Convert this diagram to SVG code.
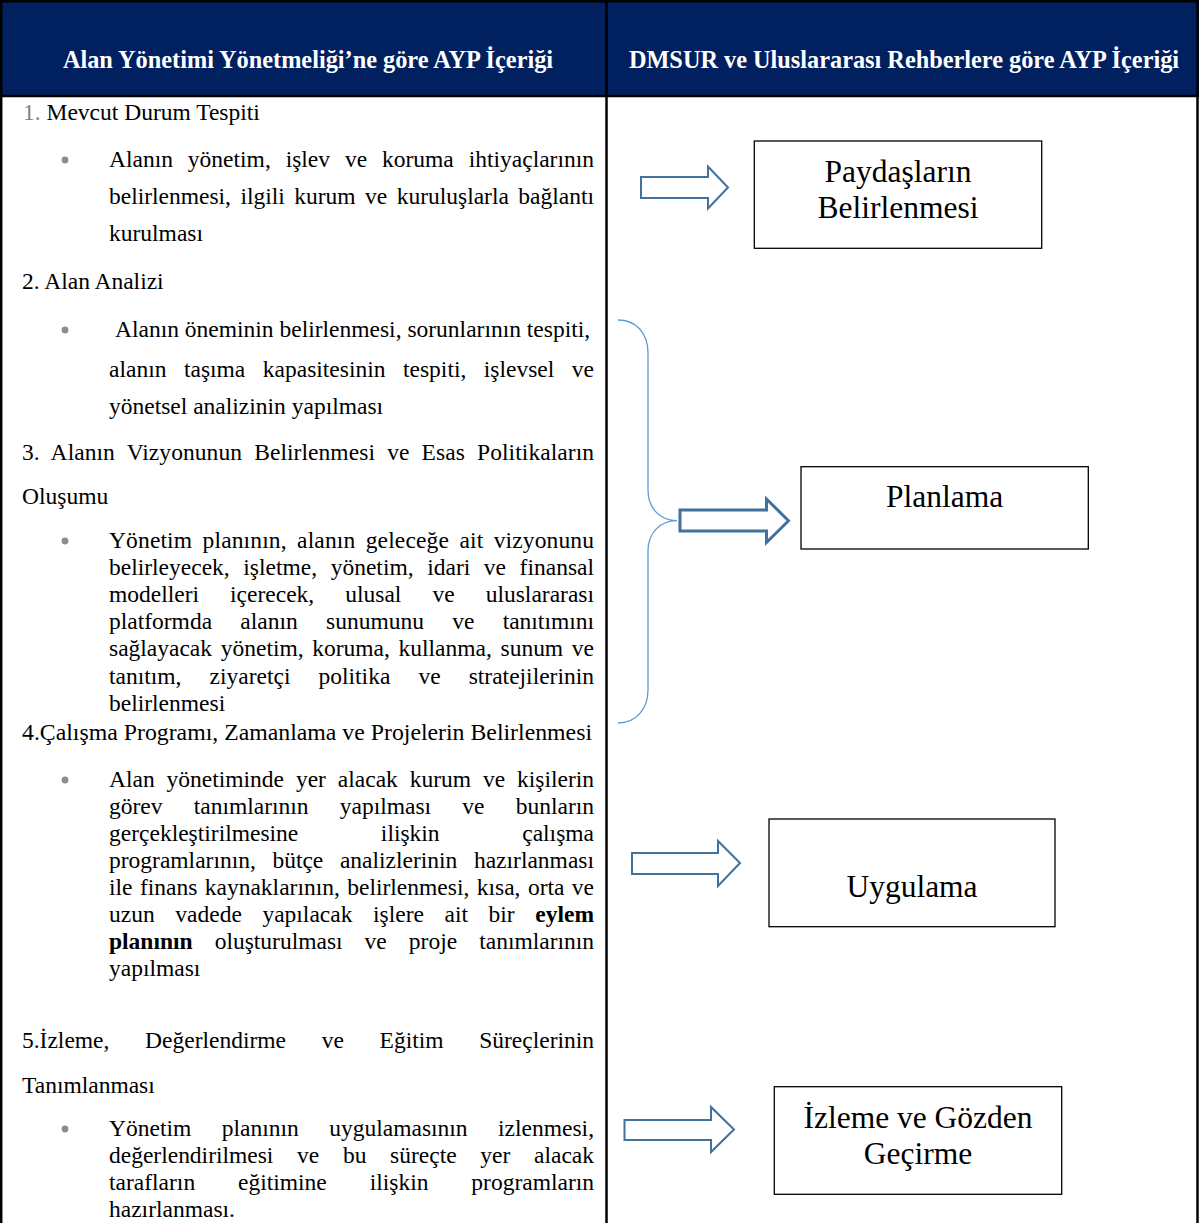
<svg xmlns="http://www.w3.org/2000/svg" width="1199" height="1223" viewBox="0 0 1199 1223">
<style>
.t{font-family:"Liberation Serif","Times New Roman",serif;font-size:23.5px;fill:#000}
.h{font-family:"Liberation Serif","Times New Roman",serif;font-size:24.3px;font-weight:bold;fill:#fff}
.bx{font-family:"Liberation Serif","Times New Roman",serif;font-size:31.5px;fill:#000}
.bd{font-weight:bold}
.grey{fill:#808080}
.box{fill:#fff;stroke:#000;stroke-width:1.3}
.arr{fill:#fff;stroke:#41719C;stroke-width:2}
.bul{fill:#8c8c8c}
.rule{stroke:#000;stroke-width:2.5;fill:none}
</style>
<rect x="0" y="0" width="1199" height="1223" fill="#fff"/>
<g id="table">
<rect x="0" y="0" width="1199" height="97" fill="#002060"/>
<line class="rule" x1="0" y1="1.2" x2="1199" y2="1.2"/>
<line class="rule" x1="0" y1="96" x2="1199" y2="96"/>
<line class="rule" x1="1.2" y1="0" x2="1.2" y2="1223"/>
<line class="rule" x1="606.5" y1="0" x2="606.5" y2="1223"/>
<line class="rule" x1="1197.5" y1="0" x2="1197.5" y2="1223"/>
<text class="h" x="308" y="68" text-anchor="middle">Alan Yönetimi Yönetmeliği’ne göre AYP İçeriği</text>
<text class="h" x="904" y="68" text-anchor="middle">DMSUR ve Uluslararası Rehberlere göre AYP İçeriği</text>
</g>
<g id="left-text">
<text class="t" x="23" y="119.5"><tspan class="grey">1.</tspan> Mevcut Durum Tespiti</text>
<circle class="bul" cx="65" cy="160" r="3.4"/>
<text class="t" x="109" y="167" textLength="485" lengthAdjust="spacing" word-spacing="9">Alanın yönetim, işlev ve koruma ihtiyaçlarının</text>
<text class="t" x="109" y="204" textLength="485" lengthAdjust="spacing" word-spacing="3.6">belirlenmesi, ilgili kurum ve kuruluşlarla bağlantı</text>
<text class="t" x="109" y="241">kurulması</text>
<text class="t" x="22" y="289">2. Alan Analizi</text>
<circle class="bul" cx="65" cy="330" r="3.4"/>
<text class="t" x="115" y="337">Alanın öneminin belirlenmesi, sorunlarının tespiti,</text>
<text class="t" x="109" y="377" textLength="485" lengthAdjust="spacing" word-spacing="11.6">alanın taşıma kapasitesinin tespiti, işlevsel ve</text>
<text class="t" x="109" y="414">yönetsel analizinin yapılması</text>
<text class="t" x="22" y="460" textLength="572" lengthAdjust="spacing" word-spacing="6.2">3. Alanın Vizyonunun Belirlenmesi ve Esas Politikaların</text>
<text class="t" x="22" y="504">Oluşumu</text>
<circle class="bul" cx="65" cy="541" r="3.4"/>
<text class="t" x="109" y="548" textLength="485" lengthAdjust="spacing" word-spacing="4.4">Yönetim planının, alanın geleceğe ait vizyonunu</text>
<text class="t" x="109" y="575" textLength="485" lengthAdjust="spacing" word-spacing="7.7">belirleyecek, işletme, yönetim, idari ve finansal</text>
<text class="t" x="109" y="602" textLength="485" lengthAdjust="spacing" word-spacing="25.2">modelleri içerecek, ulusal ve uluslararası</text>
<text class="t" x="109" y="629" textLength="485" lengthAdjust="spacing" word-spacing="22.4">platformda alanın sunumunu ve tanıtımını</text>
<text class="t" x="109" y="656" textLength="485" lengthAdjust="spacing" word-spacing="2.8">sağlayacak yönetim, koruma, kullanma, sunum ve</text>
<text class="t" x="109" y="684" textLength="485" lengthAdjust="spacing" word-spacing="22.2">tanıtım, ziyaretçi politika ve stratejilerinin</text>
<text class="t" x="109" y="711">belirlenmesi</text>
<text class="t" x="22" y="740" textLength="570" lengthAdjust="spacingAndGlyphs">4.Çalışma Programı, Zamanlama ve Projelerin Belirlenmesi</text>
<circle class="bul" cx="65" cy="780" r="3.4"/>
<text class="t" x="109" y="787" textLength="485" lengthAdjust="spacing" word-spacing="6">Alan yönetiminde yer alacak kurum ve kişilerin</text>
<text class="t" x="109" y="814" textLength="485" lengthAdjust="spacing" word-spacing="25.3">görev tanımlarının yapılması ve bunların</text>
<text class="t" x="109" y="841" textLength="485" lengthAdjust="spacing" word-spacing="76.7">gerçekleştirilmesine ilişkin çalışma</text>
<text class="t" x="109" y="868" textLength="485" lengthAdjust="spacing" word-spacing="10.7">programlarının, bütçe analizlerinin hazırlanması</text>
<text class="t" x="109" y="895" textLength="485" lengthAdjust="spacing" word-spacing="1.5">ile finans kaynaklarının, belirlenmesi, kısa, orta ve</text>
<text class="t" x="109" y="922" textLength="485" lengthAdjust="spacing" word-spacing="14.7">uzun vadede yapılacak işlere ait bir <tspan class="bd">eylem</tspan></text>
<text class="t" x="109" y="949" textLength="485" lengthAdjust="spacing" word-spacing="16.2"><tspan class="bd">planının</tspan> oluşturulması ve proje tanımlarının</text>
<text class="t" x="109" y="976">yapılması</text>
<text class="t" x="22" y="1048" textLength="572" lengthAdjust="spacing" word-spacing="29.8">5.İzleme, Değerlendirme ve Eğitim Süreçlerinin</text>
<text class="t" x="22" y="1093">Tanımlanması</text>
<circle class="bul" cx="65" cy="1129" r="3.4"/>
<text class="t" x="109" y="1136" textLength="485" lengthAdjust="spacing" word-spacing="24.6">Yönetim planının uygulamasının izlenmesi,</text>
<text class="t" x="109" y="1163" textLength="485" lengthAdjust="spacing" word-spacing="17.8">değerlendirilmesi ve bu süreçte yer alacak</text>
<text class="t" x="109" y="1190" textLength="485" lengthAdjust="spacing" word-spacing="37">tarafların eğitimine ilişkin programların</text>
<text class="t" x="109" y="1217">hazırlanması.</text>
</g>
<g id="connectors">
<polygon class="arr" points="641,177 708,177 708,166.5 728,187.5 708,208.5 708,198 641,198"/>
<path d="M618,320 C636,320 648,333 648,353 L648,490 C648,508 660,520.7 677,520.7 C660,520.7 648,533 648,551 L648,690 C648,709 636,723 618,723" fill="none" stroke="#5B9BD5" stroke-width="1.3"/>
<polygon class="arr" style="stroke-width:3" points="680,510 766.5,510 766.5,499 788.5,520.7 766.5,542.5 766.5,531 680,531"/>
<polygon class="arr" points="632,853 718,853 718,841 740,863 718,886 718,874 632,874"/>
<polygon class="arr" points="624.5,1120 711,1120 711,1107 734,1129.5 711,1152 711,1140 624.5,1140"/>
</g>
<g id="node-paydaslar">
<rect class="box" x="754.3" y="141" width="287.4" height="107.3"/>
<text class="bx" x="898" y="181.7" text-anchor="middle">Paydaşların</text>
<text class="bx" x="898" y="218.3" text-anchor="middle">Belirlenmesi</text>
</g>
<g id="node-planlama">
<rect class="box" x="801" y="466.7" width="287.3" height="82.3"/>
<text class="bx" x="944.5" y="506.7" text-anchor="middle">Planlama</text>
</g>
<g id="node-uygulama">
<rect class="box" x="769" y="819" width="286" height="107.7"/>
<text class="bx" x="912" y="896.7" text-anchor="middle">Uygulama</text>
</g>
<g id="node-izleme">
<rect class="box" x="774.3" y="1086.7" width="287.4" height="107.6"/>
<text class="bx" x="918" y="1128" text-anchor="middle">İzleme ve Gözden</text>
<text class="bx" x="918" y="1164" text-anchor="middle">Geçirme</text>
</g>
</svg>
